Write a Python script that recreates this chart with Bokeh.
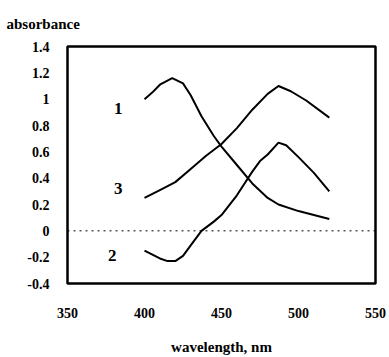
from bokeh.plotting import figure
from bokeh.models import Span, Label, FixedTicker
from bokeh.embed import file_html
from bokeh.resources import INLINE

# wavelength (nm) and absorbance
wl1 = [400, 405, 410, 418, 425, 430, 437, 445, 450, 460, 470, 480, 487, 500, 510, 520]
a1 = [1.00, 1.05, 1.11, 1.16, 1.12, 1.03, 0.87, 0.72, 0.64, 0.50, 0.36, 0.25, 0.20, 0.15, 0.12, 0.09]

wl2 = [400, 410, 415, 420, 425, 430, 437, 445, 450, 460, 470, 475, 480, 487, 492, 500, 510, 520]
a2 = [-0.15, -0.21, -0.23, -0.23, -0.19, -0.11, 0.0, 0.07, 0.12, 0.27, 0.45, 0.53, 0.58, 0.67, 0.65, 0.56, 0.44, 0.30]

wl3 = [400, 410, 415, 420, 430, 440, 450, 460, 470, 480, 487, 495, 505, 520]
a3 = [0.25, 0.31, 0.34, 0.37, 0.47, 0.57, 0.66, 0.78, 0.92, 1.04, 1.10, 1.06, 0.99, 0.86]

curve_names = ["1", "2", "3"]
label_x = [383, 379, 383]
label_y = [0.93, -0.19, 0.32]

x_ticks = [350, 400, 450, 500, 550]
y_ticks = [-0.4, -0.2, 0, 0.2, 0.4, 0.6, 0.8, 1, 1.2, 1.4]
y_tick_labels = {-0.4: "-0.4", -0.2: "-0.2", 0: "0", 0.2: "0.2", 0.4: "0.4", 0.6: "0.6",
                 0.8: "0.8", 1: "1", 1.2: "1.2", 1.4: "1.4"}

FONT = "Liberation Serif"

p = figure(width=389, height=357, x_range=(350, 550), y_range=(-0.4, 1.4),
           output_backend="svg", toolbar_location=None, title="absorbance",
           min_border_left=67, min_border_top=46, min_border_right=14, min_border_bottom=70)
p.grid.visible = False
p.outline_line_color = "black"
p.outline_line_width = 2.5
p.background_fill_color = "white"
p.border_fill_color = "white"

p.title.align = "left"
p.title.vertical_align = "top"
p.title.offset = -61
p.title.standoff = 26
p.title.text_font = FONT
p.title.text_font_style = "bold"
p.title.text_font_size = "15px"
p.title.text_color = "black"

p.axis.axis_line_color = None
p.axis.major_tick_line_color = None
p.axis.minor_tick_line_color = None
p.axis.major_label_text_font = FONT
p.axis.major_label_text_font_style = "bold"
p.axis.major_label_text_font_size = "14px"
p.axis.major_label_text_color = "black"

p.xaxis.ticker = FixedTicker(ticks=x_ticks)
p.yaxis.ticker = FixedTicker(ticks=y_ticks)
p.yaxis.major_label_overrides = y_tick_labels
p.xaxis.major_label_standoff = 18
p.yaxis.major_label_standoff = 12

p.xaxis.axis_label = "wavelength, nm"
p.xaxis.axis_label_text_font = FONT
p.xaxis.axis_label_text_font_style = "bold"
p.xaxis.axis_label_text_font_size = "15px"
p.xaxis.axis_label_text_color = "black"
p.xaxis.axis_label_standoff = 18

p.add_layout(Span(location=0, dimension="width", line_color="black",
                  line_width=1, line_dash="2 4"))

for xs, ys in ((wl1, a1), (wl2, a2), (wl3, a3)):
    p.line(xs, ys, line_color="black", line_width=2)

for name, lx, ly in zip(curve_names, label_x, label_y):
    p.add_layout(Label(x=lx, y=ly, text=name, text_font=FONT, text_font_style="bold",
                       text_font_size="17px", text_align="center", text_baseline="middle",
                       text_color="black"))

open("out.html", "w").write(file_html(p, INLINE))
